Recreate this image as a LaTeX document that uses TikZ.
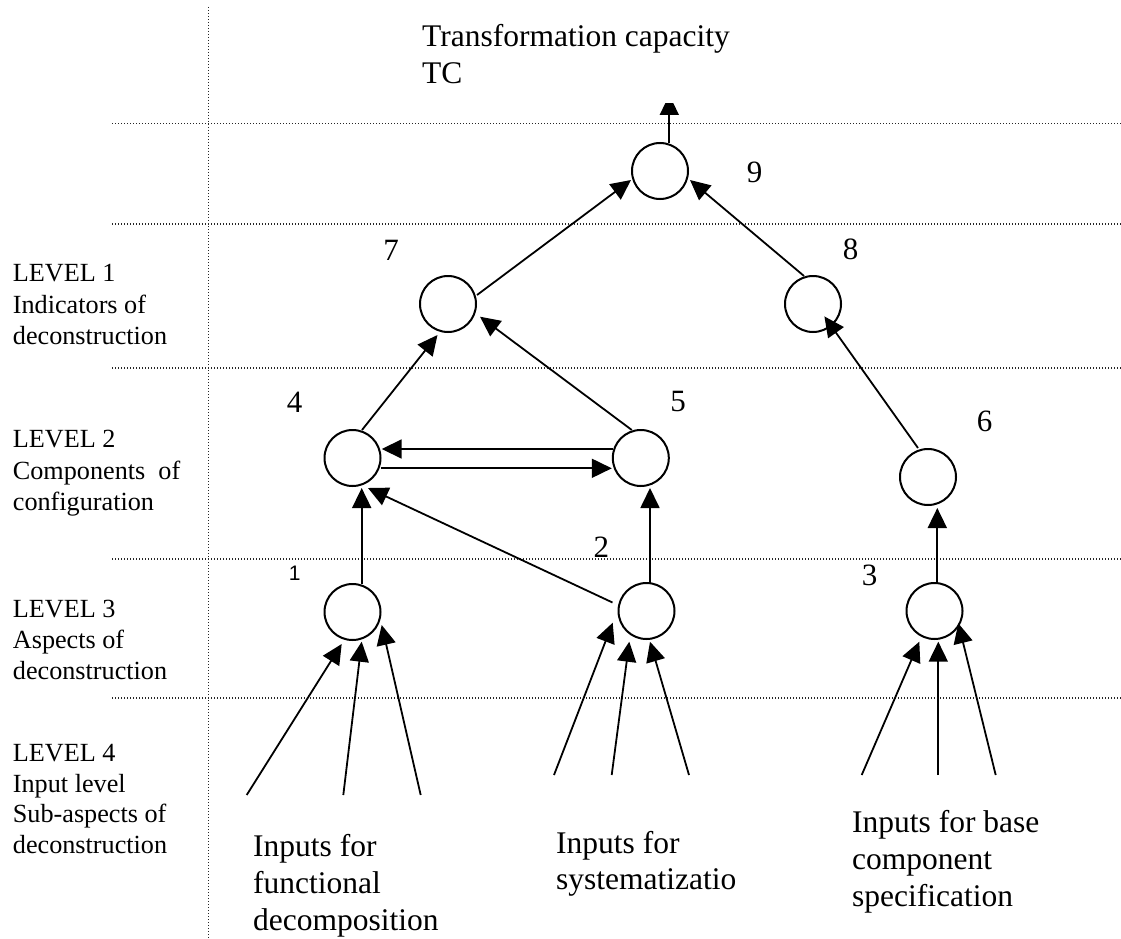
\documentclass[tikz,border=0pt]{standalone}
\usepackage{fontspec}
\setmainfont{Liberation Serif}
\newfontfamily\labelsans{Liberation Sans}
\usetikzlibrary{arrows.meta,calc}
\begin{document}
\begin{tikzpicture}[x=1pt,y=-1pt,
  gridline/.style={line width=1.1pt, dash pattern=on 1.2pt off 1.8pt, black!85},
  state/.style={circle, draw, line width=2pt, minimum size=56pt, inner sep=0pt},
  flow/.style={line width=1.8pt, -{Triangle[length=20pt,width=19pt]}},
  txt/.style={anchor=base west, inner sep=0pt},
  lvl/.style={txt, font=\fontsize{26.2}{31}\selectfont},
  big/.style={txt, font=\fontsize{31.5}{37}\selectfont},
  num/.style={anchor=base, inner sep=0pt, font=\fontsize{31}{36}\selectfont},
]
\useasboundingbox (0,0) rectangle (1121,939);
\fill[white] (0,0) rectangle (1121,939);

% level separators
\draw[gridline] (208.3,7) -- (208.3,939);
\foreach \yy in {123.5,224,368,559,698}
  \draw[gridline] (112,\yy) -- (1121,\yy);

% nodes of the hierarchy
\node[state] (c9) at (660,171) {};
\node[state] (c7) at (448,304) {};
\node[state] (c8) at (813,304) {};
\node[state] (c4) at (352.5,458) {};
\node[state] (c5) at (640.8,458) {};
\node[state] (c6) at (928,477) {};
\node[state] (c1) at (352.5,612) {};
\node[state] (c2) at (646.5,611) {};
\node[state] (c3) at (934.5,611) {};

% node numbers
\node[num] (n9) at (754.6,182.7) {9};
\node[num] (n7) at (391,260) {7};
\node[num] (n8) at (850.5,259.3) {8};
\node[num] (n4) at (294.6,412.7) {4};
\node[num] (n5) at (678.2,411.7) {5};
\node[num] (n6) at (984.6,431.7) {6};
\node[anchor=base, inner sep=0pt, font=\labelsans\fontsize{21}{25}\selectfont] (n1) at (294.7,580.5) {1};
\node[num] (n2) at (601.4,557.3) {2};
\node[num] (n3) at (869.5,585) {3};

% output
\node[big] (tc1) at (422,47) {Transformation capacity};
\node[big] (tc2) at (422,83.3) {TC};
\coordinate (tcout) at (669.3,95);
\begin{scope}
  \clip (0,104) rectangle (1121,939);
  \draw[flow] ($(c9.center)+(9.3,-28)$) -- (tcout);
\end{scope}

% level captions
\node[lvl] (l1a) at (12.7,281.7) {LEVEL 1};
\node[lvl] (l1b) at (12.7,313) {Indicators of};
\node[lvl] (l1c) at (12.7,344.3) {deconstruction};
\node[lvl] (l2a) at (12.7,447) {LEVEL 2};
\node[lvl] (l2b) at (12.7,479) {Components\ \ of};
\node[lvl] (l2c) at (12.7,510) {configuration};
\node[lvl] (l3a) at (12.7,617.7) {LEVEL 3};
\node[lvl] (l3b) at (12.7,648.5) {Aspects of};
\node[lvl] (l3c) at (12.7,679.5) {deconstruction};
\node[lvl] (l4a) at (12.7,761.7) {LEVEL 4};
\node[lvl] (l4b) at (12.7,792.7) {Input level};
\node[lvl] (l4c) at (12.7,822.7) {Sub-aspects of};
\node[lvl] (l4d) at (12.7,853.3) {deconstruction};

% input captions
\node[big] (fa) at (253,856.7) {Inputs for};
\node[big] (fb) at (253,893.3) {functional};
\node[big] (fc) at (253,930) {decomposition};
\node[big] (sa) at (556,853) {Inputs for};
\node[big] (sb) at (556,889) {systematizatio};
\node[big] (ba) at (852,832.7) {Inputs for base};
\node[big] (bb) at (852,869.3) {component};
\node[big] (bc) at (852,906.3) {specification};

% connections between levels
\draw[flow] ($(c7.center)+(29,-9)$) -- ($(c9.center)+(-29,9)$);
\draw[flow] ($(c8.center)+(-9,-28)$) -- ($(c9.center)+(30,9)$);
\draw[flow] ($(c4.center)+(9.5,-28)$) -- ($(c7.center)+(-10.5,31)$);
\draw[flow] ($(c5.center)+(-9,-28)$) -- ($(c7.center)+(32,12.7)$);
\draw[flow] ($(c6.center)+(-10,-29)$) -- ($(c8.center)+(11.4,12.4)$);
\draw[flow] ($(c5.center)+(-28,-9)$) -- ($(c4.center)+(29.2,-9)$);
\draw[flow] ($(c4.center)+(28,10.3)$) -- ($(c5.center)+(-29,10.3)$);
\draw[flow] ($(c1.center)+(9.2,-28)$) -- ($(c4.center)+(9.2,30)$);
\draw[flow] ($(c2.center)+(-34,-8.5)$) -- ($(c4.center)+(15.5,30)$);
\draw[flow] ($(c2.center)+(3.5,-28.5)$) -- ($(c5.center)+(9.2,30)$);
\draw[flow] ($(c3.center)+(2.8,-29)$) -- ($(c6.center)+(9.3,31)$);

% inputs of level 3
\coordinate (i1a) at (246.7,795);
\coordinate (i1b) at (343.3,795);
\coordinate (i1c) at (420.7,795);
\coordinate (i2a) at (554,775);
\coordinate (i2b) at (611.7,775);
\coordinate (i2c) at (689,775);
\coordinate (i3a) at (861.7,775);
\coordinate (i3b) at (938.3,775);
\coordinate (i3c) at (995.7,775);
\draw[flow] (i1a) -- ($(c1.center)+(-10.8,32)$);
\draw[flow] (i1b) -- ($(c1.center)+(9.2,29.7)$);
\draw[flow] (i1c) -- ($(c1.center)+(29.2,13)$);
\draw[flow] (i2a) -- ($(c2.center)+(-33.8,11.7)$);
\draw[flow] (i2b) -- ($(c2.center)+(-17.2,30.7)$);
\draw[flow] (i2c) -- ($(c2.center)+(3.5,30.7)$);
\draw[flow] (i3a) -- ($(c3.center)+(-15.2,30.7)$);
\draw[flow] (i3b) -- ($(c3.center)+(3.8,30.7)$);
\draw[flow] (i3c) -- ($(c3.center)+(23.8,12.3)$);
\end{tikzpicture}
\end{document}
